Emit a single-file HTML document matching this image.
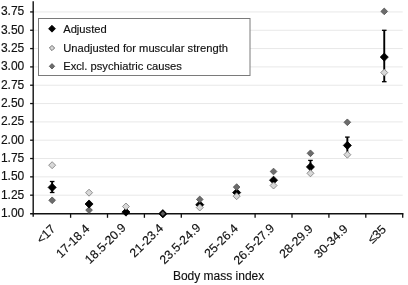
<!DOCTYPE html>
<html><head><meta charset="utf-8"><title>Body mass index chart</title>
<style>
html,body{margin:0;padding:0;background:#fff;}
body{width:408px;height:285px;overflow:hidden;}
svg{display:block;}
text{font-family:"Liberation Sans",Arial,sans-serif;font-size:12px;fill:#111;stroke:#111;stroke-width:0.15px;}
.xl{font-size:12.2px;}
.lg{font-size:11.2px;}
svg{will-change:transform;}
</style></head><body>
<svg width="408" height="285" viewBox="0 0 408 285">
<rect width="408" height="285" fill="#fff"/>

<line x1="33.7" x2="402.7" y1="195.18" y2="195.18" stroke="#e8e8e8" stroke-width="1"/>
<line x1="33.7" x2="402.7" y1="176.85" y2="176.85" stroke="#e8e8e8" stroke-width="1"/>
<line x1="33.7" x2="402.7" y1="158.53" y2="158.53" stroke="#e8e8e8" stroke-width="1"/>
<line x1="33.7" x2="402.7" y1="140.20" y2="140.20" stroke="#e8e8e8" stroke-width="1"/>
<line x1="33.7" x2="402.7" y1="121.88" y2="121.88" stroke="#e8e8e8" stroke-width="1"/>
<line x1="33.7" x2="402.7" y1="103.55" y2="103.55" stroke="#e8e8e8" stroke-width="1"/>
<line x1="33.7" x2="402.7" y1="85.22" y2="85.22" stroke="#e8e8e8" stroke-width="1"/>
<line x1="33.7" x2="402.7" y1="66.90" y2="66.90" stroke="#e8e8e8" stroke-width="1"/>
<line x1="33.7" x2="402.7" y1="48.58" y2="48.58" stroke="#e8e8e8" stroke-width="1"/>
<line x1="33.7" x2="402.7" y1="30.25" y2="30.25" stroke="#e8e8e8" stroke-width="1"/>
<line x1="33.7" x2="402.7" y1="11.93" y2="11.93" stroke="#e8e8e8" stroke-width="1"/>
<line x1="33.2" x2="33.2" y1="1.2" y2="216.8" stroke="#111" stroke-width="1.4"/>
<text x="24.25" y="217.05" text-anchor="end">1.00</text>
<line x1="30.1" x2="33.2" y1="195.18" y2="195.18" stroke="#111" stroke-width="1.3"/>
<text x="24.25" y="198.73" text-anchor="end">1.25</text>
<line x1="30.1" x2="33.2" y1="176.85" y2="176.85" stroke="#111" stroke-width="1.3"/>
<text x="24.25" y="180.40" text-anchor="end">1.50</text>
<line x1="30.1" x2="33.2" y1="158.53" y2="158.53" stroke="#111" stroke-width="1.3"/>
<text x="24.25" y="162.08" text-anchor="end">1.75</text>
<line x1="30.1" x2="33.2" y1="140.20" y2="140.20" stroke="#111" stroke-width="1.3"/>
<text x="24.25" y="143.75" text-anchor="end">2.00</text>
<line x1="30.1" x2="33.2" y1="121.88" y2="121.88" stroke="#111" stroke-width="1.3"/>
<text x="24.25" y="125.42" text-anchor="end">2.25</text>
<line x1="30.1" x2="33.2" y1="103.55" y2="103.55" stroke="#111" stroke-width="1.3"/>
<text x="24.25" y="107.10" text-anchor="end">2.50</text>
<line x1="30.1" x2="33.2" y1="85.22" y2="85.22" stroke="#111" stroke-width="1.3"/>
<text x="24.25" y="88.77" text-anchor="end">2.75</text>
<line x1="30.1" x2="33.2" y1="66.90" y2="66.90" stroke="#111" stroke-width="1.3"/>
<text x="24.25" y="70.45" text-anchor="end">3.00</text>
<line x1="30.1" x2="33.2" y1="48.58" y2="48.58" stroke="#111" stroke-width="1.3"/>
<text x="24.25" y="52.13" text-anchor="end">3.25</text>
<line x1="30.1" x2="33.2" y1="30.25" y2="30.25" stroke="#111" stroke-width="1.3"/>
<text x="24.25" y="33.80" text-anchor="end">3.50</text>
<line x1="30.1" x2="33.2" y1="11.93" y2="11.93" stroke="#111" stroke-width="1.3"/>
<text x="24.25" y="15.48" text-anchor="end">3.75</text>
<line x1="30.1" x2="403.4" y1="213.75" y2="213.75" stroke="#111" stroke-width="1.5"/>
<line x1="70.60" x2="70.60" y1="213.5" y2="217.8" stroke="#111" stroke-width="1.3"/>
<line x1="107.50" x2="107.50" y1="213.5" y2="217.8" stroke="#111" stroke-width="1.3"/>
<line x1="144.40" x2="144.40" y1="213.5" y2="217.8" stroke="#111" stroke-width="1.3"/>
<line x1="181.30" x2="181.30" y1="213.5" y2="217.8" stroke="#111" stroke-width="1.3"/>
<line x1="255.10" x2="255.10" y1="213.5" y2="217.8" stroke="#111" stroke-width="1.3"/>
<line x1="292.00" x2="292.00" y1="213.5" y2="217.8" stroke="#111" stroke-width="1.3"/>
<line x1="328.90" x2="328.90" y1="213.5" y2="217.8" stroke="#111" stroke-width="1.3"/>
<line x1="365.80" x2="365.80" y1="213.5" y2="217.8" stroke="#111" stroke-width="1.3"/>
<line x1="402.70" x2="402.70" y1="213.5" y2="217.8" stroke="#111" stroke-width="1.3"/>
<text class="xl" transform="translate(56.20,229.75) rotate(-44.5)" text-anchor="end">&lt;17</text>
<text class="xl" transform="translate(90.40,229.55) rotate(-44.5)" text-anchor="end">17-18.4</text>
<text class="xl" transform="translate(126.60,228.50) rotate(-44.5)" text-anchor="end">18.5-20.9</text>
<text class="xl" transform="translate(164.10,228.95) rotate(-44.5)" text-anchor="end">21-23.4</text>
<text class="xl" transform="translate(201.25,228.55) rotate(-44.5)" text-anchor="end">23.5-24.9</text>
<text class="xl" transform="translate(238.75,229.20) rotate(-44.5)" text-anchor="end">25-26.4</text>
<text class="xl" transform="translate(275.20,229.05) rotate(-44.5)" text-anchor="end">26.5-27.9</text>
<text class="xl" transform="translate(313.65,229.80) rotate(-44.5)" text-anchor="end">28-29.9</text>
<text class="xl" transform="translate(348.55,229.70) rotate(-44.5)" text-anchor="end">30-34.9</text>
<text class="xl" transform="translate(386.90,230.15) rotate(-44.5)" text-anchor="end">≤35</text>
<text x="218.6" y="280.4" text-anchor="middle">Body mass index</text>
<line x1="52.15" x2="52.15" y1="181.5" y2="192.5" stroke="#000" stroke-width="1.9"/>
<line x1="49.85" x2="54.45" y1="181.5" y2="181.5" stroke="#000" stroke-width="1.3"/>
<line x1="49.85" x2="54.45" y1="192.5" y2="192.5" stroke="#000" stroke-width="1.3"/>
<path d="M52.15 196.95L55.50 200.30L52.15 203.65L48.80 200.30Z" fill="#6c6c6c" stroke="#505050" stroke-width="0.8"/>
<path d="M52.15 183.35L56.20 187.40L52.15 191.45L48.10 187.40Z" fill="#000" stroke="#000" stroke-width="0.8"/>
<path d="M52.15 161.70L55.65 165.20L52.15 168.70L48.65 165.20Z" fill="#d8d8d8" stroke="#787878" stroke-width="0.8"/>
<path d="M89.05 206.75L92.40 210.10L89.05 213.45L85.70 210.10Z" fill="#6c6c6c" stroke="#505050" stroke-width="0.8"/>
<path d="M89.05 199.95L93.10 204.00L89.05 208.05L85.00 204.00Z" fill="#000" stroke="#000" stroke-width="0.8"/>
<path d="M89.05 189.20L92.55 192.70L89.05 196.20L85.55 192.70Z" fill="#d8d8d8" stroke="#787878" stroke-width="0.8"/>
<path d="M125.95 208.05L130.00 212.10L125.95 216.15L121.90 212.10Z" fill="#000" stroke="#000" stroke-width="0.8"/>
<path d="M125.95 203.00L129.45 206.50L125.95 210.00L122.45 206.50Z" fill="#d8d8d8" stroke="#787878" stroke-width="0.8"/>
<path d="M162.85 209.65L166.90 213.70L162.85 217.75L158.80 213.70Z" fill="#000" stroke="#000" stroke-width="0.8"/>
<path d="M162.85 210.20L166.35 213.70L162.85 217.20L159.35 213.70Z" fill="#d8d8d8" stroke="#787878" stroke-width="0.8"/>
<path d="M162.85 210.40L166.15 213.70L162.85 217.00L159.55 213.70Z" fill="#5c5c5c" stroke="#000" stroke-width="1.3"/>
<path d="M199.75 200.65L203.80 204.70L199.75 208.75L195.70 204.70Z" fill="#000" stroke="#000" stroke-width="0.8"/>
<path d="M199.75 204.00L203.25 207.50L199.75 211.00L196.25 207.50Z" fill="#d8d8d8" stroke="#787878" stroke-width="0.8"/>
<path d="M199.75 196.05L203.10 199.40L199.75 202.75L196.40 199.40Z" fill="#6c6c6c" stroke="#505050" stroke-width="0.8"/>
<path d="M236.65 188.55L240.70 192.60L236.65 196.65L232.60 192.60Z" fill="#000" stroke="#000" stroke-width="0.8"/>
<path d="M236.65 192.70L240.15 196.20L236.65 199.70L233.15 196.20Z" fill="#d8d8d8" stroke="#787878" stroke-width="0.8"/>
<path d="M236.65 183.75L240.00 187.10L236.65 190.45L233.30 187.10Z" fill="#6c6c6c" stroke="#505050" stroke-width="0.8"/>
<path d="M273.55 168.15L276.90 171.50L273.55 174.85L270.20 171.50Z" fill="#6c6c6c" stroke="#505050" stroke-width="0.8"/>
<path d="M273.55 176.15L277.60 180.20L273.55 184.25L269.50 180.20Z" fill="#000" stroke="#000" stroke-width="0.8"/>
<path d="M273.55 182.00L277.05 185.50L273.55 189.00L270.05 185.50Z" fill="#d8d8d8" stroke="#787878" stroke-width="0.8"/>
<line x1="310.45" x2="310.45" y1="160.4" y2="173" stroke="#000" stroke-width="1.9"/>
<line x1="308.15" x2="312.75" y1="160.4" y2="160.4" stroke="#000" stroke-width="1.3"/>
<line x1="308.15" x2="312.75" y1="173" y2="173" stroke="#000" stroke-width="1.3"/>
<path d="M310.45 149.95L313.80 153.30L310.45 156.65L307.10 153.30Z" fill="#6c6c6c" stroke="#505050" stroke-width="0.8"/>
<path d="M310.45 162.85L314.50 166.90L310.45 170.95L306.40 166.90Z" fill="#000" stroke="#000" stroke-width="0.8"/>
<path d="M310.45 169.80L313.95 173.30L310.45 176.80L306.95 173.30Z" fill="#d8d8d8" stroke="#787878" stroke-width="0.8"/>
<line x1="347.35" x2="347.35" y1="137.1" y2="154.5" stroke="#000" stroke-width="1.9"/>
<line x1="345.05" x2="349.65" y1="137.1" y2="137.1" stroke="#000" stroke-width="1.3"/>
<line x1="345.05" x2="349.65" y1="154.5" y2="154.5" stroke="#000" stroke-width="1.3"/>
<path d="M347.35 118.95L350.70 122.30L347.35 125.65L344.00 122.30Z" fill="#6c6c6c" stroke="#505050" stroke-width="0.8"/>
<path d="M347.35 141.35L351.40 145.40L347.35 149.45L343.30 145.40Z" fill="#000" stroke="#000" stroke-width="0.8"/>
<path d="M347.35 151.20L350.85 154.70L347.35 158.20L343.85 154.70Z" fill="#d8d8d8" stroke="#787878" stroke-width="0.8"/>
<line x1="384.25" x2="384.25" y1="30.3" y2="81.7" stroke="#000" stroke-width="1.9"/>
<line x1="381.95" x2="386.55" y1="30.3" y2="30.3" stroke="#000" stroke-width="1.3"/>
<line x1="381.95" x2="386.55" y1="81.7" y2="81.7" stroke="#000" stroke-width="1.3"/>
<path d="M384.25 8.05L387.60 11.40L384.25 14.75L380.90 11.40Z" fill="#6c6c6c" stroke="#505050" stroke-width="0.8"/>
<path d="M384.25 53.05L388.30 57.10L384.25 61.15L380.20 57.10Z" fill="#000" stroke="#000" stroke-width="0.8"/>
<path d="M384.25 69.10L387.75 72.60L384.25 76.10L380.75 72.60Z" fill="#d8d8d8" stroke="#787878" stroke-width="0.8"/>
<rect x="38.5" y="18.5" width="211.5" height="57" fill="#fff" stroke="#7a7a7a" stroke-width="1"/>
<path d="M52.00 25.25L55.45 28.70L52.00 32.15L48.55 28.70Z" fill="#000" stroke="#000" stroke-width="0.8"/>
<text class="lg" x="63.2" y="33.0">Adjusted</text>
<path d="M52.00 45.40L54.60 48.00L52.00 50.60L49.40 48.00Z" fill="#d8d8d8" stroke="#6e6e6e" stroke-width="1.0"/>
<text class="lg" x="63.2" y="52.4">Unadjusted for muscular strength</text>
<path d="M52.00 63.60L54.70 66.30L52.00 69.00L49.30 66.30Z" fill="#6c6c6c" stroke="#505050" stroke-width="0.8"/>
<text class="lg" x="63.2" y="70.2">Excl. psychiatric causes</text>
</svg></body></html>
